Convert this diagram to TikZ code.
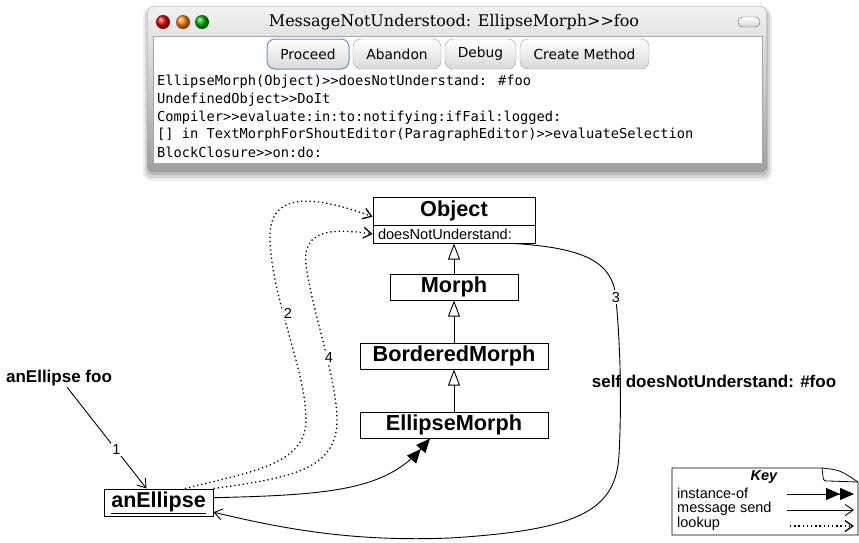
\documentclass[tikz,border=0pt]{standalone}
\usepackage{fontspec}
\setmainfont{Liberation Sans}
\newfontfamily\codefont{DejaVu Sans Mono}
\newfontfamily\titlefont{DejaVu Serif}
\newfontfamily\btnfont{DejaVu Sans}
\usetikzlibrary{arrows.meta,shadings}
\definecolor{selblue}{RGB}{95,145,215}

\begin{document}
\begin{tikzpicture}[x=1pt, y=-1pt,
  cls/.style={draw, line width=1pt, fill=white, inner sep=0pt, font=\bfseries\fontsize{21.7}{24}\selectfont},
  lbl/.style={font=\bfseries\fontsize{17}{20}\selectfont, inner sep=1pt},
  num/.style={fill=white, inner sep=1.5pt, font=\fontsize{14.5}{16}\selectfont},
  code/.style={anchor=west, inner sep=0pt, font=\codefont\fontsize{13.7}{15}\selectfont},
  btn/.style={draw=gray!75, rounded corners=8pt, top color=white, bottom color=gray!30, minimum height=30pt, inner sep=0pt, font=\btnfont\fontsize{13.8}{15}\selectfont},
  keytxt/.style={anchor=west, inner sep=0pt, font=\fontsize{14.5}{17}\selectfont},
  send/.style={line width=0.9pt, -{Straight Barb[length=8pt,width=11pt]}},
  look/.style={send, line width=1.3pt, dash pattern=on 1.3pt off 2.9pt},
  inst/.style={line width=0.9pt, -{Triangle[length=14pt,width=12pt]Triangle[length=14pt,width=12pt]}},
  inh/.style={line width=0.9pt, -{Triangle[open,length=16pt,width=12pt]}}
]
  \useasboundingbox (0,0) rectangle (859,542);

  % debugger window: shadow, frame, content
  \fill[black, opacity=0.07, rounded corners=9pt] (143,8) rectangle (772,181);
  \fill[black, opacity=0.10, rounded corners=7pt] (145,9) rectangle (770,178);
  \fill[black, opacity=0.12, rounded corners=6pt] (147,10) rectangle (768,175);
  \shade[top color=gray!10, bottom color=gray!75, rounded corners=6pt] (147,6) rectangle (767,172);
  \draw[gray!80] (147.5,6.5) [rounded corners=6pt] rectangle (766.5,171.5);
  \fill[white] (153,36) rectangle (762,163);
  \draw[gray!70] (153,36) rectangle (762,163);

  % traffic lights + collapse box
  \shade[ball color=red!90!black] (163,22) circle (7);
  \shade[ball color=orange] (183,22) circle (7);
  \shade[ball color=green!70!black] (202,22) circle (7);
  \shade[top color=white, bottom color=gray!35, draw=gray!80!black, rounded corners=4.5pt] (738,17) rectangle (760,27);
  \node[inner sep=0pt, font=\titlefont\fontsize{16}{18}\selectfont] (title) at (454,22) {MessageNotUnderstood: EllipseMorph>{}>foo};

  % buttons
  \node[btn, draw=selblue, line width=1pt, minimum width=82pt] (bproceed) at (308,54) {Proceed};
  \node[btn, minimum width=88pt] (babandon) at (397,54) {Abandon};
  \node[btn, minimum width=71pt] (bdebug) at (480.5,54) {Debug};
  \node[btn, minimum width=129pt] (bcreate) at (584.5,54) {Create Method};

  % stack
  \node[code] (ln1) at (157,82) {EllipseMorph(Object)>{}>doesNotUnderstand: \#foo};
  \node[code] (ln2) at (157,99.7) {UndefinedObject>{}>DoIt};
  \node[code] (ln3) at (157,117.4) {Compiler>{}>evaluate:in:to:notifying:ifFail:logged:};
  \node[code] (ln4) at (157,135.1) {[] in TextMorphForShoutEditor(ParagraphEditor)>{}>evaluateSelection};
  \node[code] (ln5) at (157,152.8) {BlockClosure>{}>on:do:};

  % classes
  \node[cls, minimum width=162pt, minimum height=28pt] (obj) at (454,211) {Object};
  \node[cls, minimum width=162pt, minimum height=18pt, text width=152pt, inner xsep=5pt, align=left,
        font=\fontsize{14.6}{16}\selectfont] (objm) at (454,234) {doesNotUnderstand:};
  \node[cls, minimum width=128pt, minimum height=26pt] (morph) at (454,287) {Morph};
  \node[cls, minimum width=188pt, minimum height=26pt] (bmorph) at (454,356) {BorderedMorph};
  \node[cls, minimum width=188pt, minimum height=26pt] (emorph) at (454,425) {EllipseMorph};
  \node[cls, minimum width=109pt, minimum height=27pt, font=\bfseries\fontsize{21.5}{24}\selectfont] (ane) at (158.5,502.5) {\underline{anEllipse}};

  \draw[inh] (morph.north) -- (objm.south);
  \draw[inh] (bmorph.north) -- (morph.south);
  \draw[inh] (emorph.north) -- (bmorph.south);

  % messages
  \node[lbl] (msg) at (59,378) {anEllipse foo};
  \draw[send] ([xshift=8pt]msg.south) -- ([xshift=-12pt]ane.north) node[num, pos=0.62] (lab1) {1};
  \draw[inst] (ane.5) .. controls (330,495) and (385,490) .. ([xshift=-24pt]emorph.south);

  % lookups
  \draw[look] (ane.28) .. controls (250,472) and (306,465) .. (306,420)
    .. controls (306,370) and (272,300) .. (270,240)
    .. controls (268,195) and (305,192) .. (obj.184);
  \draw[look] (ane.north east) .. controls (290,478) and (337,470) .. (337,420)
    .. controls (337,380) and (312,310) .. (306,265)
    .. controls (302,230) and (330,228) .. (objm.west);
  \node[num] (lab2) at (288,313) {2};
  \node[num] (lab4) at (329,358) {4};

  % dnu send back
  \draw[send] (objm.-9) .. controls (585,248) and (614,262) .. (616,300)
    .. controls (620,340) and (622,400) .. (619,455)
    .. controls (616,510) and (580,530) .. (450,538)
    .. controls (350,542) and (280,528) .. (ane.-10);
  \node[num] (lab3) at (616,297) {3};
  \node[lbl] (dnu) at (714,381) {self doesNotUnderstand: \#foo};

  % key
  \draw[fill=white, line width=0.8pt] (672,468) -- (822,468) .. controls (840,470) .. (858,482) -- (858,535) -- (672,535) -- cycle;
  \draw[line width=0.8pt] (822,468) -- (823,477) .. controls (824,481) .. (829,481) -- (858,482);
  \node[inner sep=0pt, font=\bfseries\itshape\fontsize{14.5}{17}\selectfont] (keyhead) at (764,477) {Key};
  \node[keytxt] (kinst) at (677,493) {instance-of};
  \node[keytxt] (ksend) at (677,509) {message send};
  \node[keytxt] (klook) at (677,524) {lookup};
  \coordinate (ki1) at (787,494);
  \coordinate (ki2) at (854,494);
  \coordinate (ks1) at (787,510);
  \coordinate (ks2) at (854,510);
  \coordinate (kl1) at (790,526);
  \coordinate (kl2) at (854,526);
  \draw[inst] (ki1) -- (ki2);
  \draw[send] (ks1) -- (ks2);
  \draw[look] (kl1) -- (kl2);
\end{tikzpicture}
\end{document}
